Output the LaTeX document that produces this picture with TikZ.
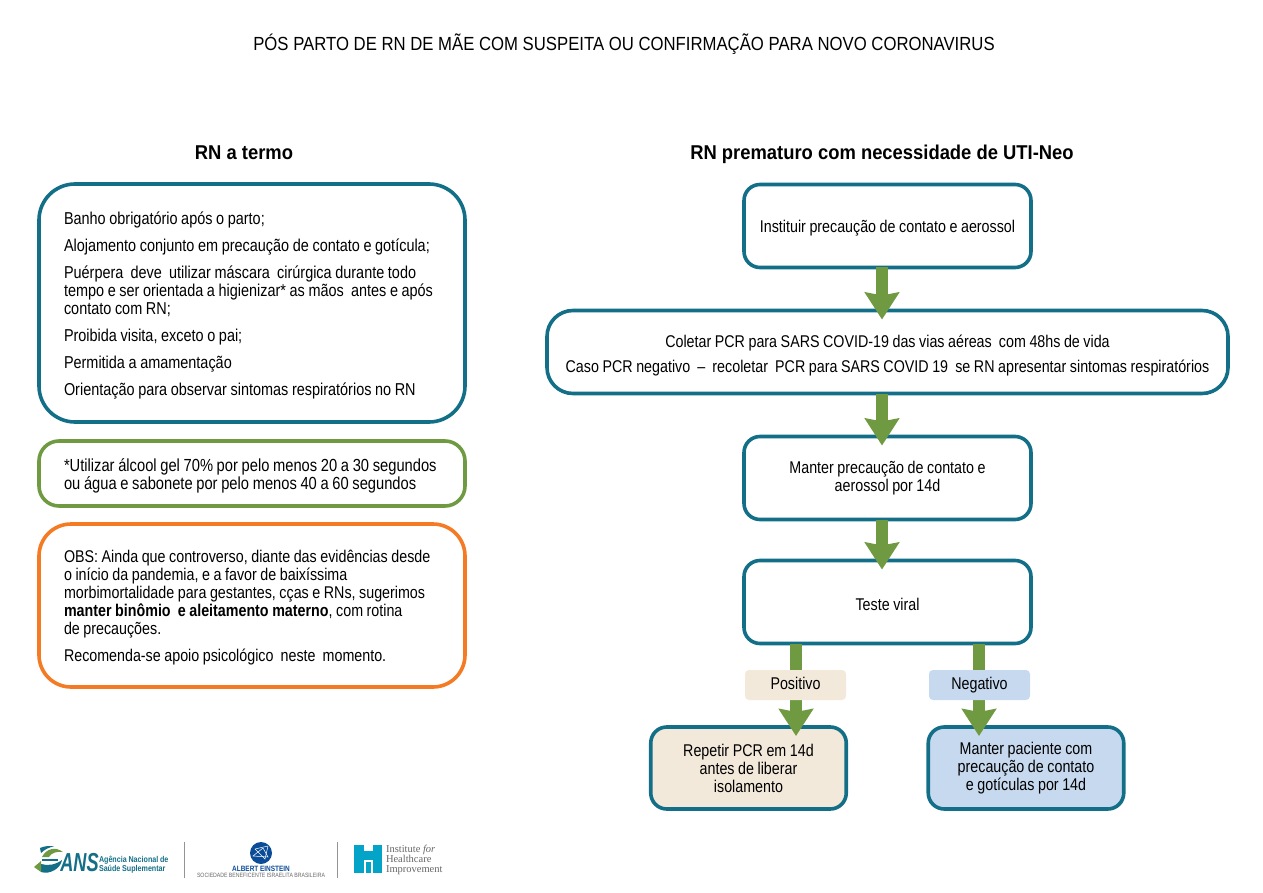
\documentclass[tikz,border=0pt]{standalone}
\usepackage{fontspec}
\setmainfont[FakeStretch=0.84,WordSpace=0.9]{Liberation Sans}
\newfontfamily\titlefont[FakeStretch=0.88]{Liberation Sans}
\newfontfamily\headfont[FakeStretch=0.92]{Liberation Sans}
\newfontfamily\ansfont[FakeStretch=0.7]{Liberation Sans}
\newfontfamily\ihifont{Liberation Serif}
\usetikzlibrary{arrows.meta,positioning,calc}
\definecolor{tealline}{HTML}{136E87}
\definecolor{flowgreen}{HTML}{6F9A41}
\definecolor{obsorange}{HTML}{F47A24}
\definecolor{posfill}{HTML}{F3E9DA}
\definecolor{negfill}{HTML}{C6D9EE}
\definecolor{einsteinblue}{HTML}{0B4C98}
\definecolor{ihiblue}{HTML}{04A3C8}
\definecolor{logogray}{HTML}{666666}
\newcommand{\topfix}{\rule{0pt}{17pt}}
\tikzset{
  txt/.style={font=\fontsize{17}{18}\selectfont, align=center, outer sep=0pt, inner sep=0pt},
  sidebox/.style={txt, rectangle, line width=3.6pt, draw=tealline, fill=white, align=flush left,
                  text width=376pt, minimum width=425.5pt, inner xsep=25pt,
                  execute at begin node=\topfix},
  flowbox/.style={txt, rectangle, rounded corners=16pt, line width=3.6pt, draw=tealline, fill=white,
                  minimum width=287pt, minimum height=83pt, execute at begin node=\topfix},
  endbox/.style={flowbox, minimum width=195.5pt, minimum height=82pt},
  tagbox/.style={txt, rectangle, rounded corners=4pt, minimum width=101pt, minimum height=30pt,
                 text height=12pt, text depth=3pt},
  flowar/.style={-{Stealth[length=27pt,width=34pt,inset=3pt]}, line width=12pt, draw=flowgreen, shorten >=-9pt},
  heading/.style={font=\headfont\fontsize{20}{22}\selectfont\bfseries, outer sep=0pt, inner sep=0pt, anchor=base},
  logotxt/.style={outer sep=0pt, inner sep=0pt, align=left},
}
\begin{document}
\begin{tikzpicture}[x=1pt,y=-1pt]
\useasboundingbox (0,0) rectangle (1263,893);

% ================= titles =================
\node[font=\titlefont\fontsize{19}{21}\selectfont, inner sep=0pt, anchor=base] (title) at (624,51)
  {PÓS PARTO DE RN DE MÃE COM SUSPEITA OU CONFIRMAÇÃO PARA NOVO CORONAVIRUS};
\node[heading] (headL) at (244,160) {RN a termo};
\node[heading] (headR) at (882,160) {RN prematuro com necessidade de UTI-Neo};

% ================= LEFT: three notes =================
\node[sidebox, font=\fontsize{17.2}{18}\selectfont, rounded corners=36pt, minimum height=238pt] (care) at (252,303)
  {Banho obrigatório após o parto;\\[9pt]
   Alojamento conjunto em precaução de contato e gotícula;\\[9pt]
   Puérpera\ \ deve\ \ utilizar máscara\ \ cirúrgica durante todo\\
   tempo e ser orientada a higienizar* as mãos\ \ antes e após\\
   contato com RN;\\[9pt]
   Proibida visita, exceto o pai;\\[9pt]
   Permitida a amamentação\\[9pt]
   Orientação para observar sintomas respiratórios no RN};
\node[sidebox, font=\fontsize{17.5}{18}\selectfont, rounded corners=20pt, draw=flowgreen, minimum height=65pt] (gel) at (252,473.5)
  {*Utilizar álcool gel 70\% por pelo menos 20 a 30 segundos\\
   ou água e sabonete por pelo menos 40 a 60 segundos};
\node[sidebox, rounded corners=32pt, draw=obsorange, minimum height=163pt] (obs) at (252,605.5)
  {OBS: Ainda que controverso, diante das evidências desde\\
   o início da pandemia, e a favor de baixíssima\\
   morbimortalidade para gestantes, cças e RNs, sugerimos\\
   \textbf{manter binômio\ \ e aleitamento materno}, com rotina\\
   de precauções.\\[9pt]
   Recomenda-se apoio psicológico\ \ neste\ \ momento.};

% ================= RIGHT: flow =================
\node[flowbox] (inst) at (887.5,226) {Instituir precaução de contato e aerossol};
\node[flowbox, rounded corners=26pt, minimum width=681pt, below=43pt of inst] (pcr)
  {\rule{0pt}{19.5pt}Coletar PCR para SARS COVID-19 das vias aéreas\ \ com 48hs de vida\\[7pt]
   Caso PCR negativo\ \ --\ \ recoletar\ \ PCR para SARS COVID 19\ \ se RN apresentar sintomas respiratórios};
\node[flowbox, below=43pt of pcr] (manter) {Manter precaução de contato e\\aerossol por 14d};
\node[flowbox, below=41pt of manter] (teste) {Teste viral};
\node[endbox, fill=posfill] (repetir) at (748.5,768) {Repetir PCR em 14d\\antes de liberar\\isolamento};
\node[endbox, fill=negfill] (paciente) at (1026,768) {Manter paciente com\\precaução de contato\\e gotículas por 14d};

% ================= arrows =================
\coordinate (flowx) at (882,0);
\coordinate (posx) at (796,0);
\coordinate (negx) at (979,0);
\draw[flowar] (inst.south -| flowx) -- (pcr.north -| flowx);
\draw[flowar] (pcr.south -| flowx) -- (manter.north -| flowx);
\draw[flowar] (manter.south -| flowx) -- (teste.north -| flowx);
\draw[flowar] (teste.south -| posx) -- (repetir.north -| posx);
\draw[flowar] (teste.south -| negx) -- (paciente.north -| negx);

\node[tagbox, fill=posfill] (pos) at (795.5,685) {Positivo};
\node[tagbox, fill=negfill] (neg) at (979.5,685) {Negativo};

% ================= logos =================
\fill[tealline] (40,848) .. controls (44,846) and (50,845.5) .. (54,846.5) .. controls (50,847) and (45,849) .. (41,853) -- cycle;
\fill[flowgreen] (42,857) .. controls (46,849) and (55,846) .. (63,852) .. controls (57,851) and (51,853) .. (49,857) -- cycle;
\fill[tealline] (42,858.5) -- (58,858.5) -- (58,860.5) -- (42,860.5) -- cycle;
\fill[tealline] (41,864) .. controls (48,866) and (55,865) .. (62,860) .. controls (61,868) and (50,875) .. (41,872) -- cycle;
\fill[flowgreen] (34,867) -- (41,861) -- (41,872) -- cycle;
\node[logotxt, font=\ansfont\fontsize{26}{26}\selectfont\bfseries\itshape, text=tealline] (ans) at (79.5,862.5) {ANS};
\node[logotxt, font=\fontsize{8.5}{9}\selectfont\bfseries, text=tealline, anchor=west] (ansname) at (99,864.5)
  {Agência Nacional de\\Saúde Suplementar};
\draw[logogray!70, line width=0.7pt] (184.5,842) -- (184.5,878);
\fill[einsteinblue] (261,853) circle (11);
\draw[white, line width=0.5pt] (255,849) -- (268,846) -- (265,859) -- cycle;
\draw[white, line width=0.5pt] (253,856) -- (263,848) -- (268,857) -- cycle;
\node[logotxt, font=\fontsize{7.7}{8}\selectfont\bfseries, text=einsteinblue] (einstein) at (261,868.5) {ALBERT EINSTEIN};
\node[logotxt, font=\fontsize{6.2}{6.5}\selectfont, text=logogray] (sbib) at (261,875.5) {SOCIEDADE BENEFICENTE ISRAELITA BRASILEIRA};
\draw[logogray!70, line width=0.7pt] (337.5,842) -- (337.5,878);
\fill[ihiblue] (354,845) rectangle (364,873);
\fill[ihiblue] (373,845) rectangle (382,873);
\fill[ihiblue] (364,851) rectangle (373,860);
\fill[ihiblue] (366,862) rectangle (371,873);
\node[logotxt, font=\ihifont\fontsize{10.5}{10}\selectfont, text=logogray, anchor=west] (ihi) at (386,859.5)
  {Institute \textit{for}\\Healthcare\\Improvement};
\end{tikzpicture}
\end{document}
